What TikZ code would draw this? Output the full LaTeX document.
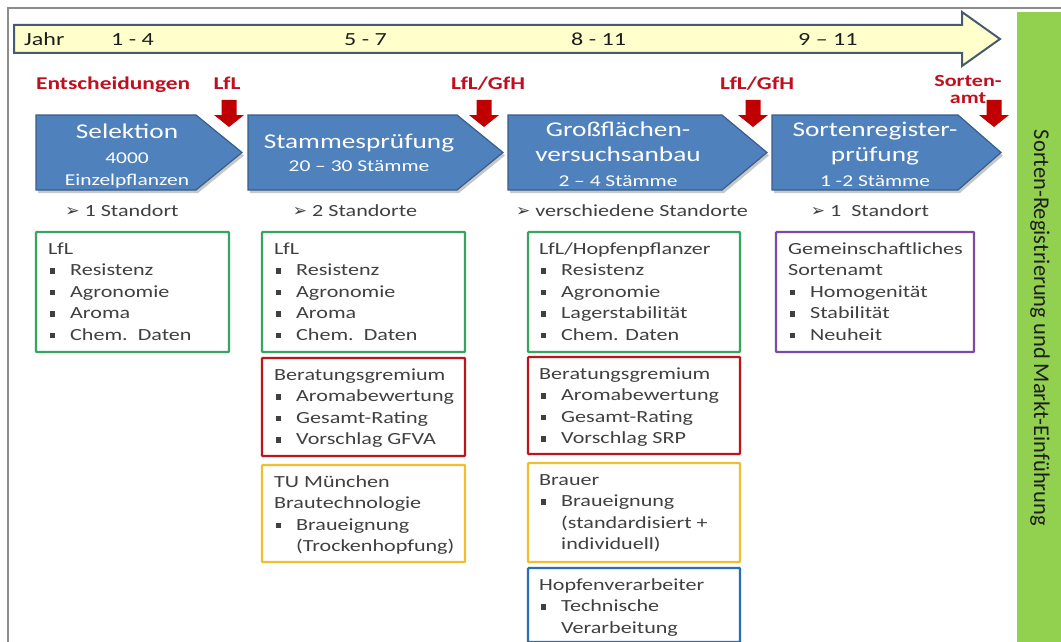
\documentclass[tikz,border=0pt]{standalone}
\usepackage{fontspec}
\setmainfont{Carlito}[FakeStretch=1.3]
\newfontfamily\barfont{Carlito}
\newfontfamily\symfont{DejaVu Sans}
\definecolor{chevblue}{RGB}{79,129,189}
\definecolor{chevedge}{RGB}{56,93,138}
\definecolor{tlfill}{RGB}{255,255,204}
\definecolor{tledge}{RGB}{70,90,115}
\definecolor{arrred}{RGB}{192,0,0}
\definecolor{labred}{RGB}{192,16,32}
\definecolor{boxgreen}{RGB}{55,165,95}
\definecolor{boxred}{RGB}{190,20,30}
\definecolor{boxyellow}{RGB}{240,190,50}
\definecolor{boxblue}{RGB}{40,110,180}
\definecolor{boxpurple}{RGB}{125,75,165}
\definecolor{bargreen}{RGB}{146,208,80}
\definecolor{txtgray}{RGB}{64,64,64}
\definecolor{txtdark}{RGB}{30,30,30}
\definecolor{framegray}{RGB}{140,140,140}
\newcommand\itm{\makebox[22pt][l]{\hspace*{1.5pt}\rule[1.8pt]{5.5pt}{5.5pt}}}
\newcommand\cnt{\hspace*{22pt}}
\newcommand\arrsym{{\symfont\fontsize{17}{17}\selectfont ➢}}
\begin{document}
\begin{tikzpicture}[x=1pt,y=-1pt,
  chev/.style={fill=chevblue,draw=chevedge,line width=1.2pt,line join=miter},
  chevshadow/.style={fill=black,opacity=0.22},
  chevbig/.style={font=\fontsize{21}{21}\selectfont,text=white,inner sep=0,anchor=base},
  chevsmall/.style={font=\fontsize{16.5}{16.5}\selectfont,text=white,inner sep=0,anchor=base},
  redlab/.style={font=\bfseries\fontsize{18}{17}\selectfont,text=labred,inner sep=0,anchor=base},
  yearlab/.style={font=\fontsize{18.5}{18.5}\selectfont,text=txtdark,inner sep=0,anchor=base west},
  stdort/.style={font=\fontsize{17}{17}\selectfont,text=txtgray,inner sep=0,anchor=base},
  infobox/.style={line width=2.2pt,fill=white,rounded corners=0.8pt,inner sep=0,outer sep=0,anchor=north west},
  infotext/.style={font=\fontsize{17}{21.5}\selectfont,text=txtgray,inner sep=0,anchor=north west,align=left},
  redarrow/.pic={\fill[arrred] (-7.5,0) -- (7.5,0) -- (7.5,15) -- (15,15) -- (0,27) -- (-15,15) -- (-7.5,15) -- cycle;}
]
\useasboundingbox (0,0) rectangle (1061,642);
\clip (0,0) rectangle (1061,642);
\fill[white] (0,0) rectangle (1061,642);
% frame
\draw[framegray,line width=2pt] (8,643) -- (8,8) -- (1062,8);
% green bar
\node[fill=bargreen,minimum width=44pt,minimum height=631pt,inner sep=0,anchor=north west] (bar) at (1017,12) {};
\node[rotate=-90,font=\barfont\fontsize{22.5}{22.5}\selectfont,text=txtdark,inner sep=0] (bartxt) at (1040,328) {Sorten-Registrierung und Markt-Einführung};
% timeline
\draw[fill=tlfill,draw=tledge,line width=2pt,line join=miter] (14,25) -- (962,25) -- (962,12) -- (1000,39) -- (962,66) -- (962,53) -- (14,53) -- cycle;
\node[yearlab] (jahr) at (24,46) {Jahr};
\node[yearlab] (y1) at (111,46) {1 - 4};
\node[yearlab] (y2) at (344,46) {5 - 7};
\node[yearlab] (y3) at (571,46) {8 - 11};
\node[yearlab] (y4) at (798,46) {9 – 11};
% red labels
\node[redlab,anchor=base west] (ent) at (36,90) {Entscheidungen};
\node[redlab] (d1) at (227,90) {LfL};
\node[redlab] (d2) at (488,90) {LfL/GfH};
\node[redlab] (d3) at (757,90) {LfL/GfH};
\node[redlab,font=\bfseries\fontsize{17}{17}\selectfont] (d4a) at (968,87) {Sorten-};
\node[redlab,font=\bfseries\fontsize{17}{17}\selectfont] (d4b) at (968,103) {amt};
% chevrons
\foreach \L/\F/\T in {36/196/242,248/457/503,508/722/767,772/958/1001}{
  \fill[chevshadow] (\L+2,118) -- (\F+2,118) -- (\T+2,155.5) -- (\F+2,193) -- (\L+2,193) -- cycle;
  \draw[chev] (\L,115) -- (\F,115) -- (\T,152.5) -- (\F,190) -- (\L,190) -- cycle;
}
% red arrows
\pic at (229,100) {redarrow};
\pic at (484,100) {redarrow};
\pic at (753,100) {redarrow};
\pic at (994,100) {redarrow};
% chevron texts
\node[chevbig] (c1a) at (127,138) {Selektion};
\node[chevsmall] (c1b) at (127,163) {4000};
\node[chevsmall] (c1c) at (127,185) {Einzelpflanzen};
\node[chevbig] (c2a) at (359,148) {Stammesprüfung};
\node[chevsmall] (c2b) at (359,171) {20 – 30 Stämme};
\node[chevbig] (c3a) at (618,136) {Großflächen-};
\node[chevbig] (c3b) at (618,161) {versuchsanbau};
\node[chevsmall] (c3c) at (618,186) {2 – 4 Stämme};
\node[chevbig] (c4a) at (875,136) {Sortenregister-};
\node[chevbig] (c4b) at (875,161) {prüfung};
\node[chevsmall] (c4c) at (875,186) {1 -2 Stämme};
% Standort lines
\node[stdort] (s1) at (122,216) {\arrsym\ 1 Standort};
\node[stdort] (s2) at (355,216) {\arrsym\ 2 Standorte};
\node[stdort] (s3) at (632,216) {\arrsym\ verschiedene Standorte};
\node[stdort] (s4) at (870,216) {\arrsym\ 1\ \ Standort};
% boxes column 1
\node[infobox,draw=boxgreen,minimum width=193pt,minimum height=120pt] (b1) at (36,232) {};
\node[infotext] (t1) at (48,239) {\strut LfL\\\itm Resistenz\\\itm Agronomie\\\itm Aroma\\\itm Chem.\ \ Daten};
% column 2
\node[infobox,draw=boxgreen,minimum width=203pt,minimum height=120pt] (b2) at (262,232) {};
\node[infotext] (t2) at (274,239) {\strut LfL\\\itm Resistenz\\\itm Agronomie\\\itm Aroma\\\itm Chem.\ \ Daten};
\node[infobox,draw=boxred,minimum width=203pt,minimum height=98pt] (b2r) at (262,358) {};
\node[infotext] (t2r) at (274,365) {\strut Beratungsgremium\\\itm Aromabewertung\\\itm Gesamt-Rating\\\itm Vorschlag GFVA};
\node[infobox,draw=boxyellow,minimum width=203pt,minimum height=97pt] (b2y) at (262,465) {};
\node[infotext] (t2y) at (274,472) {\strut TU München\\Brautechnologie\\\itm Braueignung\\\cnt(Trockenhopfung)};
% column 3
\node[infobox,draw=boxgreen,minimum width=212pt,minimum height=120pt] (b3) at (528,232) {};
\node[infotext] (t3) at (539,239) {\strut LfL/Hopfenpflanzer\\\itm Resistenz\\\itm Agronomie\\\itm Lagerstabilität\\\itm Chem. Daten};
\node[infobox,draw=boxred,minimum width=212pt,minimum height=97pt] (b3r) at (528,357) {};
\node[infotext] (t3r) at (539,364) {\strut Beratungsgremium\\\itm Aromabewertung\\\itm Gesamt-Rating\\\itm Vorschlag SRP};
\node[infobox,draw=boxyellow,minimum width=212pt,minimum height=99pt] (b3y) at (528,463) {};
\node[infotext] (t3y) at (539,470) {\strut Brauer\\\itm Braueignung\\\cnt(standardisiert +\\\cnt individuell)};
\node[infobox,draw=boxblue,minimum width=212pt,minimum height=74pt] (b3b) at (528,568) {};
\node[infotext] (t3b) at (539,575) {\strut Hopfenverarbeiter\\\itm Technische\\\cnt Verarbeitung};
% column 4
\node[infobox,draw=boxpurple,minimum width=198pt,minimum height=120pt] (b4) at (776,232) {};
\node[infotext] (t4) at (788,239) {\strut Gemeinschaftliches\\Sortenamt\\\itm Homogenität\\\itm Stabilität\\\itm Neuheit};
\end{tikzpicture}
\end{document}
